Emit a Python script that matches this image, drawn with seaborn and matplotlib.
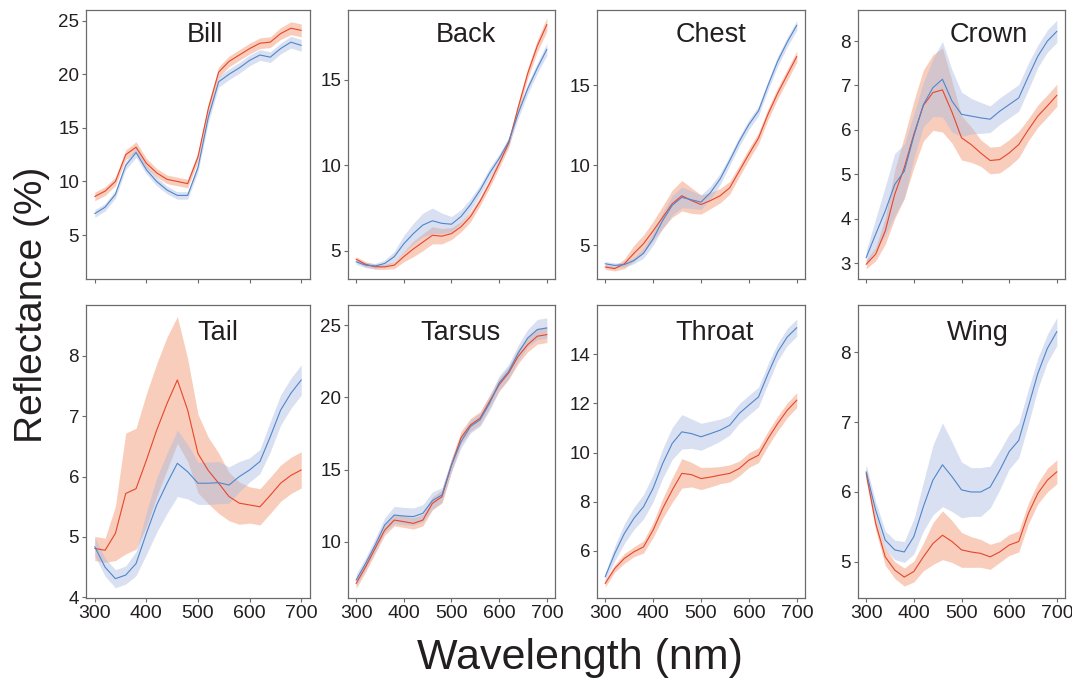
import matplotlib
matplotlib.use("Agg")
import matplotlib.pyplot as plt
import seaborn as sns
import numpy as np

sns.set_style("white")
plt.rcParams['font.family'] = ['Liberation Sans', 'DejaVu Sans']

# wavelength grid (nm)
wavelength = [300, 320, 340, 360, 380, 400, 420, 440, 460, 480, 500,
              520, 540, 560, 580, 600, 620, 640, 660, 680, 700]

# mean reflectance (%) and half-width of shaded band, red and blue groups
bill_red = [8.6, 9.1, 10.0, 12.5, 13.2, 11.7, 10.8, 10.2, 10.0, 9.8, 12.3,
            16.8, 20.2, 21.2, 21.8, 22.4, 22.9, 23.0, 23.8, 24.3, 24.1]
bill_red_sd = [0.4, 0.4, 0.4, 0.45, 0.5, 0.45, 0.4, 0.4, 0.4, 0.4, 0.45,
               0.5, 0.5, 0.5, 0.5, 0.5, 0.5, 0.5, 0.55, 0.6, 0.6]
bill_blue = [7.0, 7.6, 8.8, 11.5, 12.7, 11.1, 10.0, 9.2, 8.7, 8.7, 11.3,
             16.0, 19.3, 20.0, 20.6, 21.3, 21.8, 21.6, 22.4, 23.0, 22.7]
bill_blue_sd = [0.35, 0.35, 0.35, 0.4, 0.45, 0.4, 0.4, 0.35, 0.35, 0.35, 0.4,
                0.5, 0.5, 0.5, 0.5, 0.5, 0.5, 0.5, 0.5, 0.55, 0.55]

back_red = [4.5, 4.2, 4.06, 4.05, 4.15, 4.65, 5.1, 5.5, 5.9, 5.85, 6.0,
            6.4, 7.0, 7.9, 8.95, 10.1, 11.3, 13.4, 15.4, 17.0, 18.25]
back_red_sd = [0.15, 0.15, 0.15, 0.15, 0.2, 0.3, 0.45, 0.5, 0.5, 0.45, 0.35,
               0.3, 0.3, 0.25, 0.25, 0.25, 0.25, 0.3, 0.3, 0.35, 0.4]
back_blue = [4.35, 4.15, 4.1, 4.25, 4.65, 5.4, 6.0, 6.5, 6.75, 6.6, 6.55,
             7.0, 7.7, 8.55, 9.55, 10.4, 11.4, 13.05, 14.5, 15.7, 16.8]
back_blue_sd = [0.15, 0.15, 0.15, 0.2, 0.3, 0.5, 0.6, 0.7, 0.75, 0.6, 0.45,
                0.4, 0.35, 0.3, 0.3, 0.25, 0.25, 0.3, 0.3, 0.3, 0.35]

chest_red = [3.65, 3.55, 3.85, 4.5, 5.1, 5.9, 6.75, 7.6, 8.1, 7.8, 7.55,
             7.8, 8.1, 8.6, 9.65, 10.7, 11.7, 13.2, 14.5, 15.65, 16.8]
chest_red_sd = [0.15, 0.15, 0.3, 0.5, 0.55, 0.6, 0.7, 0.85, 0.95, 0.8, 0.6,
                0.5, 0.45, 0.4, 0.35, 0.35, 0.35, 0.35, 0.35, 0.35, 0.35]
chest_blue = [3.85, 3.75, 3.8, 4.05, 4.5, 5.4, 6.55, 7.5, 8.0, 7.85, 7.7,
              8.3, 9.15, 10.3, 11.5, 12.55, 13.4, 15.0, 16.5, 17.7, 18.75]
chest_blue_sd = [0.15, 0.15, 0.15, 0.2, 0.3, 0.4, 0.5, 0.6, 0.65, 0.55, 0.45,
                 0.4, 0.35, 0.3, 0.3, 0.3, 0.3, 0.3, 0.3, 0.3, 0.3]

crown_red = [2.97, 3.2, 3.72, 4.55, 5.15, 5.9, 6.55, 6.84, 6.9, 6.4, 5.82,
             5.67, 5.48, 5.31, 5.33, 5.48, 5.67, 6.0, 6.31, 6.54, 6.78]
crown_red_sd = [0.1, 0.15, 0.3, 0.55, 0.7, 0.75, 0.8, 0.85, 0.95, 0.7, 0.5,
                0.4, 0.3, 0.3, 0.3, 0.3, 0.3, 0.25, 0.25, 0.25, 0.25]
crown_blue = [3.12, 3.65, 4.17, 4.77, 5.07, 5.86, 6.57, 6.95, 7.14, 6.65, 6.35,
              6.31, 6.27, 6.24, 6.42, 6.57, 6.72, 7.2, 7.66, 8.0, 8.22]
crown_blue_sd = [0.15, 0.35, 0.55, 0.7, 0.6, 0.5, 0.5, 0.65, 0.85, 0.7, 0.5,
                 0.4, 0.35, 0.3, 0.3, 0.3, 0.3, 0.3, 0.25, 0.25, 0.25]

tail_red = [4.81, 4.78, 5.06, 5.72, 5.8, 6.27, 6.77, 7.21, 7.6, 7.1, 6.38,
            6.1, 5.89, 5.67, 5.56, 5.53, 5.5, 5.69, 5.89, 6.02, 6.11]
tail_red_sd = [0.2, 0.2, 0.45, 1.0, 1.0, 1.1, 1.1, 1.1, 1.05, 0.85, 0.65,
               0.55, 0.5, 0.4, 0.35, 0.3, 0.3, 0.3, 0.3, 0.3, 0.3]
tail_blue = [4.84, 4.5, 4.31, 4.37, 4.56, 5.06, 5.53, 5.89, 6.22, 6.08, 5.89,
             5.89, 5.9, 5.86, 6.0, 6.11, 6.25, 6.66, 7.1, 7.38, 7.6]
tail_blue_sd = [0.15, 0.15, 0.15, 0.15, 0.2, 0.35, 0.45, 0.5, 0.55, 0.45, 0.35,
                0.35, 0.35, 0.3, 0.25, 0.2, 0.2, 0.25, 0.25, 0.25, 0.25]

tarsus_red = [7.1, 8.26, 9.54, 10.8, 11.5, 11.39, 11.27, 11.5, 12.66, 13.12, 15.3,
              17.2, 18.1, 18.56, 19.72, 20.88, 21.7, 22.85, 23.66, 24.24, 24.35]
tarsus_red_sd = [0.35, 0.35, 0.35, 0.35, 0.4, 0.4, 0.4, 0.4, 0.45, 0.45, 0.45,
                 0.45, 0.45, 0.45, 0.45, 0.45, 0.45, 0.5, 0.5, 0.55, 0.55]
tarsus_blue = [7.34, 8.5, 9.77, 11.16, 11.85, 11.78, 11.74, 11.97, 12.85, 13.24, 15.3,
               16.94, 17.99, 18.45, 19.6, 21.0, 21.8, 23.08, 24.12, 24.7, 24.81]
tarsus_blue_sd = [0.4, 0.4, 0.45, 0.5, 0.6, 0.6, 0.6, 0.6, 0.6, 0.5, 0.45,
                  0.45, 0.45, 0.45, 0.5, 0.5, 0.5, 0.55, 0.6, 0.7, 0.7]

throat_red = [4.67, 5.28, 5.69, 5.96, 6.16, 6.84, 7.72, 8.47, 9.15, 9.1, 8.94,
              9.0, 9.08, 9.15, 9.35, 9.69, 9.89, 10.57, 11.18, 11.72, 12.13]
throat_red_sd = [0.15, 0.15, 0.2, 0.2, 0.25, 0.3, 0.4, 0.5, 0.6, 0.5, 0.45,
                 0.4, 0.35, 0.35, 0.3, 0.3, 0.3, 0.3, 0.3, 0.3, 0.3]
throat_blue = [4.94, 5.89, 6.7, 7.32, 7.79, 8.54, 9.55, 10.37, 10.84, 10.77, 10.64,
               10.77, 10.91, 11.11, 11.59, 11.93, 12.26, 13.21, 14.09, 14.7, 15.08]
throat_blue_sd = [0.15, 0.3, 0.4, 0.45, 0.5, 0.55, 0.6, 0.65, 0.7, 0.6, 0.55,
                  0.5, 0.45, 0.4, 0.4, 0.4, 0.4, 0.4, 0.35, 0.35, 0.35]

wing_red = [6.27, 5.55, 5.07, 4.88, 4.78, 4.86, 5.07, 5.26, 5.38, 5.29, 5.17,
            5.14, 5.12, 5.07, 5.14, 5.24, 5.29, 5.69, 5.98, 6.17, 6.29]
wing_red_sd = [0.1, 0.1, 0.12, 0.12, 0.13, 0.15, 0.2, 0.3, 0.35, 0.3, 0.25,
               0.22, 0.2, 0.18, 0.15, 0.15, 0.15, 0.15, 0.15, 0.17, 0.17]
wing_blue = [6.29, 5.74, 5.31, 5.17, 5.14, 5.36, 5.79, 6.17, 6.39, 6.22, 6.03,
             6.0, 6.0, 6.07, 6.31, 6.58, 6.74, 7.22, 7.7, 8.06, 8.3]
wing_blue_sd = [0.1, 0.12, 0.13, 0.14, 0.15, 0.25, 0.35, 0.5, 0.6, 0.5, 0.4,
                0.35, 0.35, 0.3, 0.28, 0.25, 0.25, 0.25, 0.22, 0.2, 0.2]

titles = ['Bill', 'Back', 'Chest', 'Crown', 'Tail', 'Tarsus', 'Throat', 'Wing']
red_means = [bill_red, back_red, chest_red, crown_red, tail_red, tarsus_red, throat_red, wing_red]
red_sds = [bill_red_sd, back_red_sd, chest_red_sd, crown_red_sd, tail_red_sd, tarsus_red_sd,
           throat_red_sd, wing_red_sd]
blue_means = [bill_blue, back_blue, chest_blue, crown_blue, tail_blue, tarsus_blue, throat_blue, wing_blue]
blue_sds = [bill_blue_sd, back_blue_sd, chest_blue_sd, crown_blue_sd, tail_blue_sd, tarsus_blue_sd,
            throat_blue_sd, wing_blue_sd]
y_ticks = [[5, 10, 15, 20, 25], [5, 10, 15], [5, 10, 15], [3, 4, 5, 6, 7, 8],
           [4, 5, 6, 7, 8], [10, 15, 20, 25], [6, 8, 10, 12, 14], [5, 6, 7, 8]]
y_limits = [(0.9, 26.0), (3.34, 19.1), (2.9, 19.7), (2.64, 8.7),
            (3.99, 8.84), (6.1, 26.4), (4.08, 16.0), (4.48, 8.68)]
title_x = [0.53, 0.57, 0.55, 0.63, 0.59, 0.545, 0.565, 0.58]

# axes positions in figure fractions
col_pos = [(0.0802, 0.2090), (0.3246, 0.1931), (0.5569, 0.1940), (0.8004, 0.1931)]
row_pos = [(0.5927, 0.3927), (0.1270, 0.4277)]

red_line, red_fill = '#e8452c', '#f4a584'
blue_line, blue_fill = '#4f86cc', '#a9bce3'
text_col = '#231f20'
spine_col = '#6b6b6b'

fig = plt.figure(figsize=(10.72, 6.85), dpi=100)

for i, name in enumerate(titles):
    r, c = divmod(i, 4)
    ax = fig.add_axes([col_pos[c][0], row_pos[r][0], col_pos[c][1], row_pos[r][1]])
    rm, rs = np.array(red_means[i]), np.array(red_sds[i])
    bm, bs = np.array(blue_means[i]), np.array(blue_sds[i])
    ax.fill_between(wavelength, rm - rs, rm + rs, color=red_fill, alpha=0.55, lw=0)
    ax.fill_between(wavelength, bm - bs, bm + bs, color=blue_fill, alpha=0.45, lw=0)
    sns.lineplot(x=wavelength, y=red_means[i], color=red_line, lw=0.8, ax=ax)
    sns.lineplot(x=wavelength, y=blue_means[i], color=blue_line, lw=0.8, ax=ax)

    ax.set_xlim(283, 717)
    ax.set_ylim(*y_limits[i])
    ax.set_xticks([300, 400, 500, 600, 700])
    ax.set_yticks(y_ticks[i])
    ax.tick_params(axis='both', direction='out', length=3, width=0.8,
                   color=spine_col, labelcolor=text_col, bottom=True, left=True)
    ax.tick_params(axis='y', labelsize=13.5, pad=2)
    ax.tick_params(axis='x', labelsize=14, pad=2)
    if r == 0:
        ax.set_xticklabels([])
    for sp in ax.spines.values():
        sp.set_color(spine_col)
        sp.set_linewidth(0.9)
    ax.set_xlabel('')
    ax.set_ylabel('')
    ax.text(title_x[i], 0.88, name, transform=ax.transAxes, ha='center',
            va='baseline', fontsize=19.5, color=text_col)

fig.text(0.03, 0.555, 'Reflectance (%)', rotation=90, ha='center', va='center',
         fontsize=28, color=text_col)
fig.text(0.541, 0.04, 'Wavelength (nm)', ha='center', va='center',
         fontsize=31, color=text_col)

fig.savefig('out.png', dpi=100)
